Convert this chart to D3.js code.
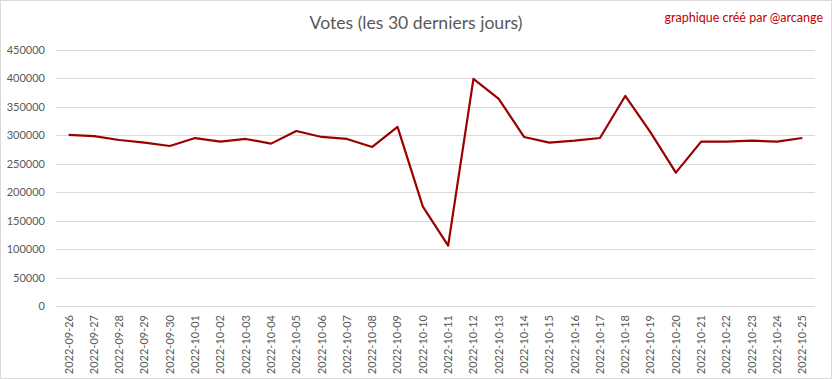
<!DOCTYPE html>
<html><head><meta charset="utf-8">
<script src="https://cdn.jsdelivr.net/npm/d3@7"></script>
<style>body{margin:0;background:#fff;} svg{display:block;}</style>
</head><body>
<svg id="c" width="832" height="379"></svg>
<script>
const dates = ["2022-09-26","2022-09-27","2022-09-28","2022-09-29","2022-09-30","2022-10-01","2022-10-02","2022-10-03","2022-10-04","2022-10-05","2022-10-06","2022-10-07","2022-10-08","2022-10-09","2022-10-10","2022-10-11","2022-10-12","2022-10-13","2022-10-14","2022-10-15","2022-10-16","2022-10-17","2022-10-18","2022-10-19","2022-10-20","2022-10-21","2022-10-22","2022-10-23","2022-10-24","2022-10-25"];
const votes = [300500,298500,291600,287000,281000,295000,288700,293400,285200,307400,296900,293400,279300,314500,174500,106000,398800,363700,296900,287000,290400,295100,368900,305100,234200,288700,288700,290400,288700,295100];
const yTicks = [0,50000,100000,150000,200000,250000,300000,350000,400000,450000];
const title = "Votes (les 30 derniers jours)";
const credit = "graphique créé par @arcange";

const svg = d3.select("#c");
const font = "Lato, 'Open Sans', sans-serif";
svg.append("rect").attr("x",0.5).attr("y",0.5).attr("width",831).attr("height",378)
  .attr("fill","#fff").attr("stroke","#d9d9d9");

const m = {left:56, right:815, top:49.8, bottom:306};
const x = d3.scaleBand().domain(dates).range([m.left, m.right]);
const y = d3.scaleLinear().domain([0,450000]).range([m.bottom, m.top]);

const grid = svg.append("g").attr("class","grid");
grid.selectAll("line").data(yTicks).join("line")
  .attr("x1",m.left).attr("x2",m.right)
  .attr("y1",d=>Math.round(y(d))+0.5).attr("y2",d=>Math.round(y(d))+0.5)
  .attr("stroke","#d9d9d9").attr("stroke-width",1);

const yAxis = d3.axisLeft(y).tickValues(yTicks).tickFormat(d3.format("d")).tickSize(0).tickPadding(0);
const ya = svg.append("g").attr("transform",`translate(45,0)`).call(yAxis);
ya.select(".domain").remove();
ya.selectAll("text").attr("font-family",font).attr("font-size","11px").attr("fill","#595959");

const xAxis = d3.axisBottom(x).tickSize(0).tickPadding(0);
const xa = svg.append("g").attr("transform",`translate(0,${m.bottom})`).call(xAxis);
xa.select(".domain").remove();
xa.selectAll("text")
  .attr("font-family",font).attr("font-size","11px").attr("fill","#595959")
  .attr("text-anchor","end").attr("dy","0.35em")
  .attr("transform","translate(0,9) rotate(-90)").attr("x",0).attr("y",0);

const line = d3.line().x((d,i)=>x(dates[i])+x.bandwidth()/2).y(d=>y(d));
svg.append("path").datum(votes).attr("d",line)
  .attr("fill","none").attr("stroke","#990000").attr("stroke-width",2.2)
  .attr("stroke-linejoin","round");

svg.append("text").attr("x",416).attr("y",29).attr("text-anchor","middle")
  .attr("font-family",font).attr("font-size","17.6px").attr("fill","#595959").text(title);
svg.append("text").attr("x",823).attr("y",22).attr("text-anchor","end")
  .attr("font-family",font).attr("font-size","12.5px").attr("fill","#c00000").text(credit);
</script>
</body></html>
